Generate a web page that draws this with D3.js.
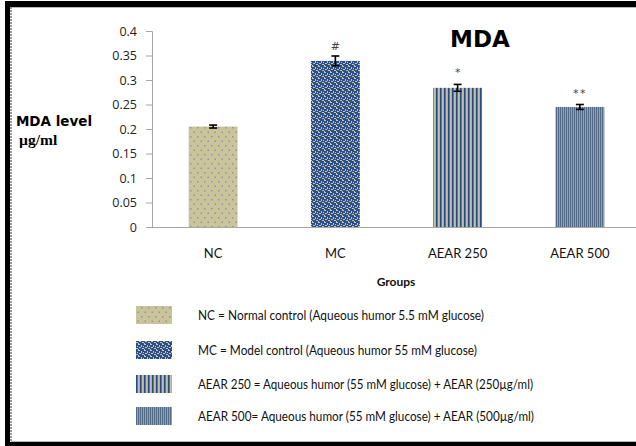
<!DOCTYPE html>
<html>
<head>
<meta charset="utf-8">
<script src="https://cdn.jsdelivr.net/npm/d3@7"></script>
<style>
  html, body { margin: 0; padding: 0; background: #fff; }
  svg { display: block; }
</style>
</head>
<body>
<script>
// MDA level per experimental group (mean ± error)
const groups = ["NC", "MC", "AEAR 250", "AEAR 500"];
const mdaMeans = [0.205, 0.339, 0.284, 0.245];
const mdaErrors = [0.003, 0.010, 0.007, 0.005];
const sigMarks = ["", "#", "*", "**"];
const yTicks = [0, 0.05, 0.1, 0.15, 0.2, 0.25, 0.3, 0.35, 0.4];
const patternIds = ["pNC", "pMC", "pA250", "pA500"];
const legendLabels = [
  "NC = Normal control (Aqueous humor 5.5 mM glucose)",
  "MC = Model control (Aqueous humor 55 mM glucose)",
  "AEAR 250 = Aqueous humor (55 mM glucose) + AEAR (250µg/ml)",
  "AEAR 500= Aqueous humor (55 mM glucose) + AEAR (500µg/ml)"
];
const legendWidths = [286, 279, 335, 336];

const W = 636, H = 446;
const svg = d3.select("body").append("svg").attr("width", W).attr("height", H);
const defs = svg.append("defs");

// Fill patterns
const TAN = "#cbc39a", BLUE = "#2b4f8c";
{
  const p = defs.append("pattern").attr("id", "pNC").attr("patternUnits", "userSpaceOnUse")
    .attr("width", 7).attr("height", 9);
  p.append("rect").attr("width", 7).attr("height", 9).attr("fill", TAN);
  p.append("rect").attr("x", 1).attr("y", 1).attr("width", 1.5).attr("height", 1.5).attr("fill", "#8997a6");
  p.append("rect").attr("x", 4.5).attr("y", 5.5).attr("width", 1.5).attr("height", 1.5).attr("fill", "#8997a6");
}
{
  const p = defs.append("pattern").attr("id", "pMC").attr("patternUnits", "userSpaceOnUse")
    .attr("width", 6).attr("height", 6);
  p.append("rect").attr("width", 6).attr("height", 6).attr("fill", BLUE);
  [[0, 0, 2, 1], [3, 1, 1, 2], [1, 3, 2, 1], [4, 4, 2, 1], [0, 5, 1, 1], [5, 2, 1, 1]].forEach(d =>
    p.append("rect").attr("x", d[0]).attr("y", d[1]).attr("width", d[2]).attr("height", d[3]).attr("fill", "#cfc59a"));
}
{
  const p = defs.append("pattern").attr("id", "pA250").attr("patternUnits", "userSpaceOnUse")
    .attr("width", 4).attr("height", 4);
  p.append("rect").attr("width", 4).attr("height", 4).attr("fill", "#93a0ad");
  p.append("rect").attr("x", 0).attr("width", 1.5).attr("height", 4).attr("fill", "#234a8c");
  p.append("rect").attr("x", 2.2).attr("width", 1.2).attr("height", 4).attr("fill", "#d2c89c");
}
{
  const p = defs.append("pattern").attr("id", "pA500").attr("patternUnits", "userSpaceOnUse")
    .attr("width", 2).attr("height", 2);
  p.append("rect").attr("width", 2).attr("height", 2).attr("fill", "#9aa1a0");
  p.append("rect").attr("x", 0).attr("width", 1).attr("height", 2).attr("fill", "#546b88");
}

// Frame
svg.append("rect").attr("x", 0).attr("y", 0).attr("width", W).attr("height", H).attr("fill", "#fff");
svg.append("rect").attr("x", 5).attr("y", 1).attr("width", W - 5).attr("height", 6).attr("fill", "#000");
svg.append("rect").attr("x", 5).attr("y", 1).attr("width", 5).attr("height", H - 1).attr("fill", "#000");
svg.append("rect").attr("x", 5).attr("y", 442).attr("width", W - 5).attr("height", 4).attr("fill", "#000");
svg.append("line").attr("x1", 11).attr("x2", W).attr("y1", 7.5).attr("y2", 7.5).attr("stroke", "#b8b8b8");
svg.append("line").attr("x1", 11).attr("x2", W).attr("y1", 441.5).attr("y2", 441.5).attr("stroke", "#b8b8b8");
svg.append("line").attr("x1", 11).attr("x2", 11).attr("y1", 7).attr("y2", 442)
  .attr("stroke", "#9a9a9a").attr("stroke-width", 2).attr("stroke-dasharray", "2,1");

// Scales
const x = d3.scaleBand().domain(groups).range([152, 641]).paddingInner(0.6).paddingOuter(0.3);
const y = d3.scaleLinear().domain([0, 0.4]).range([227, 31]);

// Y axis
const yAxis = svg.append("g").attr("transform", "translate(152,0)")
  .call(d3.axisLeft(y).tickValues(yTicks).tickSize(6).tickPadding(9)
    .tickFormat(d => String(+d.toFixed(2))));
yAxis.select(".domain").attr("stroke", "#a6a6a6");
yAxis.selectAll(".tick line").attr("stroke", "#a6a6a6");
yAxis.selectAll(".tick text").attr("font-family", "Open Sans").attr("font-size", 12.5).attr("fill", "#222");

// X axis line (no ticks)
svg.append("line").attr("x1", 152).attr("x2", W).attr("y1", y(0) + 0.5).attr("y2", y(0) + 0.5)
  .attr("stroke", "#a6a6a6");
svg.selectAll(".xlab").data(groups).join("text").attr("class", "xlab")
  .attr("x", d => x(d) + x.bandwidth() / 2).attr("y", 258)
  .attr("text-anchor", "middle").attr("font-family", "Lato").attr("font-size", 13).attr("fill", "#111")
  .text(d => d);

// Bars
svg.selectAll(".bar").data(groups).join("rect").attr("class", "bar")
  .attr("x", d => x(d)).attr("width", x.bandwidth())
  .attr("y", (d, i) => y(mdaMeans[i])).attr("height", (d, i) => y(0) - y(mdaMeans[i]))
  .attr("fill", (d, i) => `url(#${patternIds[i]})`);

// Error bars
const eb = svg.selectAll(".err").data(groups).join("g").attr("class", "err")
  .attr("stroke", "#000").attr("stroke-width", 1.6);
eb.append("line").attr("x1", d => x(d) + x.bandwidth() / 2).attr("x2", d => x(d) + x.bandwidth() / 2)
  .attr("y1", (d, i) => y(mdaMeans[i] - mdaErrors[i])).attr("y2", (d, i) => y(mdaMeans[i] + mdaErrors[i]));
[-1, 1].forEach(s => {
  eb.append("line").attr("x1", d => x(d) + x.bandwidth() / 2 - 4).attr("x2", d => x(d) + x.bandwidth() / 2 + 4)
    .attr("y1", (d, i) => y(mdaMeans[i] + s * mdaErrors[i])).attr("y2", (d, i) => y(mdaMeans[i] + s * mdaErrors[i]));
});

// Significance marks
svg.selectAll(".sig").data(groups).join("text").attr("class", "sig")
  .attr("x", d => x(d) + x.bandwidth() / 2)
  .attr("y", (d, i) => y(mdaMeans[i] + mdaErrors[i]) - (i === 1 ? 6 : 8))
  .attr("text-anchor", "middle").attr("font-family", "DejaVu Sans").attr("font-size", 11).attr("fill", "#444")
  .attr("letter-spacing", (d, i) => i === 3 ? 1.5 : 0)
  .text((d, i) => sigMarks[i]);

// Title
svg.append("text").attr("x", 480).attr("y", 47).attr("text-anchor", "middle")
  .attr("font-family", "DejaVu Sans").attr("font-weight", "bold").attr("font-size", 23).attr("fill", "#000")
  .text("MDA");

// Axis titles
svg.append("text").attr("x", 54).attr("y", 126).attr("text-anchor", "middle")
  .attr("font-family", "DejaVu Sans").attr("font-weight", "bold").attr("font-size", 13.5).attr("fill", "#000")
  .text("MDA level");
svg.append("text").attr("x", 19).attr("y", 145)
  .attr("font-family", "Liberation Serif").attr("font-weight", "bold").attr("font-size", 15.5).attr("fill", "#000")
  .text("µg/ml");
svg.append("text").attr("x", 396).attr("y", 286).attr("text-anchor", "middle")
  .attr("font-family", "Lato").attr("font-weight", "bold").attr("font-size", 12).attr("fill", "#111")
  .text("Groups");

// Legend
const lg = svg.selectAll(".leg").data(legendLabels).join("g").attr("class", "leg")
  .attr("transform", (d, i) => `translate(0,${[315, 350, 384, 416][i]})`);
lg.append("rect").attr("x", 136).attr("y", -9).attr("width", 36).attr("height", 18)
  .attr("fill", (d, i) => `url(#${patternIds[i]})`);
lg.append("text").attr("x", 198).attr("y", 5)
  .attr("font-family", "Lato").attr("font-size", 14).attr("fill", "#111")
  .attr("textLength", (d, i) => legendWidths[i]).attr("lengthAdjust", "spacingAndGlyphs")
  .text(d => d);
</script>
</body>
</html>
